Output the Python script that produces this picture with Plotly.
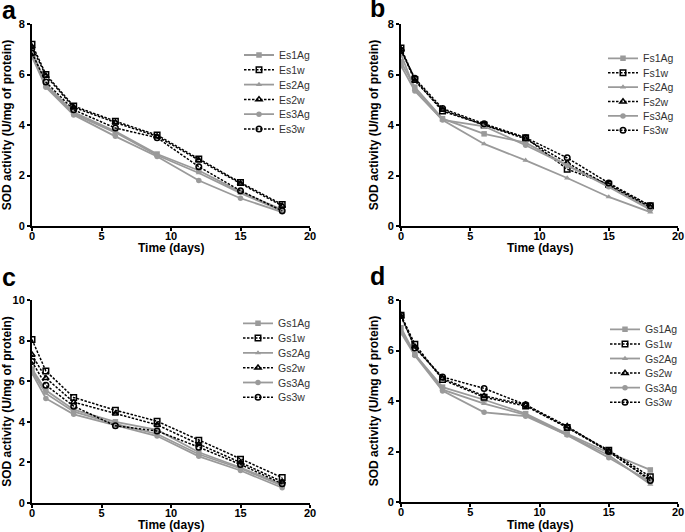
import plotly.graph_objects as go

days = [0, 1, 3, 6, 9, 12, 15, 18]

# Panel a
a_names = ["Es1Ag", "Es1w", "Es2Ag", "Es2w", "Es3Ag", "Es3w"]
Es1Ag = [6.95, 5.6, 4.5, 3.75, 2.85, 2.2, 1.35, 0.65]
Es1w = [7.2, 6.0, 4.75, 4.15, 3.6, 2.65, 1.72, 0.85]
Es2Ag = [6.8, 5.55, 4.45, 3.7, 2.8, 2.1, 1.3, 0.6]
Es2w = [7.1, 5.95, 4.7, 4.1, 3.55, 2.6, 1.68, 0.8]
Es3Ag = [6.7, 5.5, 4.4, 3.55, 2.75, 1.8, 1.1, 0.55]
Es3w = [6.85, 5.7, 4.6, 3.88, 3.5, 2.35, 1.4, 0.6]

# Panel b
b_names = ["Fs1Ag", "Fs1w", "Fs2Ag", "Fs2w", "Fs3Ag", "Fs3w"]
Fs1Ag = [6.5, 5.5, 4.25, 3.65, 3.3, 2.4, 1.6, 0.7]
Fs1w = [7.05, 5.8, 4.55, 4.0, 3.5, 2.25, 1.65, 0.8]
Fs2Ag = [6.8, 5.4, 4.2, 3.25, 2.6, 1.9, 1.15, 0.55]
Fs2w = [7.0, 5.75, 4.6, 4.0, 3.45, 2.5, 1.6, 0.75]
Fs3Ag = [6.35, 5.35, 4.2, 3.95, 3.2, 2.4, 1.55, 0.65]
Fs3w = [6.95, 5.85, 4.65, 4.05, 3.5, 2.7, 1.7, 0.8]

# Panel c
c_names = ["Gs1Ag", "Gs1w", "Gs2Ag", "Gs2w", "Gs3Ag", "Gs3w"]
cGs1Ag = [6.6, 5.55, 4.6, 4.0, 3.6, 2.5, 1.75, 0.9]
cGs1w = [8.05, 6.5, 5.2, 4.57, 4.03, 3.09, 2.15, 1.25]
cGs2Ag = [6.5, 5.4, 4.5, 3.9, 3.4, 2.4, 1.7, 0.85]
cGs2w = [7.3, 6.15, 4.97, 4.4, 3.85, 2.9, 2.0, 1.05]
cGs3Ag = [6.4, 5.15, 4.37, 3.85, 3.3, 2.3, 1.6, 0.75]
cGs3w = [6.97, 5.8, 4.77, 3.8, 3.55, 2.75, 1.9, 0.95]

# Panel d
d_names = ["Gs1Ag", "Gs1w", "Gs2Ag", "Gs2w", "Gs3Ag", "Gs3w"]
dGs1Ag = [6.9, 5.85, 4.55, 4.05, 3.5, 2.7, 1.95, 1.27]
dGs1w = [7.4, 6.25, 4.85, 4.15, 3.8, 2.95, 2.05, 1.0]
dGs2Ag = [6.8, 5.85, 4.45, 3.9, 3.45, 2.65, 1.85, 0.7]
dGs2w = [7.35, 6.15, 4.9, 4.2, 3.85, 3.0, 2.0, 0.9]
dGs3Ag = [6.7, 5.8, 4.4, 3.55, 3.4, 2.65, 1.75, 0.8]
dGs3w = [7.4, 6.1, 4.95, 4.5, 3.85, 2.95, 2.0, 0.85]

x_ticks = [0, 5, 10, 15, 20]
panel_letters = ["a", "b", "c", "d"]
x_title = "Time (days)"
y_title = "SOD activity (U/mg of protein)"

panels = [
    (a_names, [Es1Ag, Es1w, Es2Ag, Es2w, Es3Ag, Es3w], 8),
    (b_names, [Fs1Ag, Fs1w, Fs2Ag, Fs2w, Fs3Ag, Fs3w], 8),
    (c_names, [cGs1Ag, cGs1w, cGs2Ag, cGs2w, cGs3Ag, cGs3w], 10),
    (d_names, [dGs1Ag, dGs1w, dGs2Ag, dGs2w, dGs3Ag, dGs3w], 8),
]

W, H = 685, 532
FONT = "Liberation Sans, Arial, sans-serif"
GRAY = "#9a9a9a"

# pixel geometry of each plot area: (x0, x1, ytop, ybottom)
boxes = [(32, 310, 24, 226), (401, 678, 24, 226), (32, 310, 300, 503), (401, 678, 300, 502)]
# legend: left x of the legend box, first row centre, row step (pixels)
legend_pos = [(239, 55, 14.8), (603, 58.3, 14.4), (238, 323.3, 14.8), (605, 329.3, 14.6)]
# panel letter: left x, bottom y of text box (pixels)
letter_pos = [(0, 26), (368, 24), (0, 293), (368, 292)]
# x-axis title centre y (pixels)
xtitle_y = [248, 248, 525, 525]

symbols_ag = ["square", "triangle-up", "circle"]
symbols_w = ["square-open", "triangle-up-open", "circle-open"]

fig = go.Figure()
layout = {}
annotations = []
legend_count = 0
for i, (names, series, ymax) in enumerate(panels):
    k = "" if i == 0 else str(i + 1)
    lx, ly0, lstep = legend_pos[i]
    for j, (nm, vals) in enumerate(zip(names, series)):
        is_ag = j % 2 == 0
        idx = j // 2
        if is_ag:
            line = dict(color=GRAY, width=1.8)
            marker = dict(symbol=symbols_ag[idx], size=5.5, color=GRAY)
        else:
            line = dict(color="black", width=1.5, dash="2.5px,1.5px")
            marker = dict(symbol=symbols_w[idx], size=5.5, color="black",
                          line=dict(color="black", width=1.5))
        legend_count += 1
        lg = "legend" if legend_count == 1 else "legend" + str(legend_count)
        fig.add_trace(go.Scatter(x=days, y=vals, name=nm, mode="lines+markers",
                                 line=line, marker=marker,
                                 xaxis="x" + k, yaxis="y" + k, legend=lg))
        layout[lg] = dict(x=lx / W, y=1 - (ly0 + j * lstep) / H, xanchor="left", yanchor="middle",
                          bgcolor="rgba(0,0,0,0)", itemwidth=30, borderwidth=0,
                          font=dict(family=FONT, size=10.5, color="#333"))
    x0, x1, yt, yb = boxes[i]
    axis_common = dict(showline=True, linecolor="black", linewidth=2, ticks="outside",
                       ticklen=3, tickwidth=1.5, tickcolor="black", showgrid=False,
                       zeroline=False, automargin=False,
                       tickfont=dict(family=FONT, size=11, color="black", weight="bold"))
    layout["xaxis" + k] = dict(domain=[x0 / W, x1 / W], anchor="y" + k, range=[0, 20],
                               tickvals=x_ticks, ticklabelstandoff=-4, **axis_common)
    layout["yaxis" + k] = dict(domain=[1 - yb / H, 1 - yt / H], anchor="x" + k, range=[0, ymax],
                               dtick=2,
                               title=dict(text=y_title, standoff=6,
                                          font=dict(family=FONT, size=12, color="black", weight="bold")),
                               **axis_common)
    annotations.append(dict(text=x_title, x=(x0 + x1) / 2 / W, y=1 - xtitle_y[i] / H,
                            xref="paper", yref="paper", showarrow=False,
                            xanchor="center", yanchor="middle",
                            font=dict(family=FONT, size=12, color="black", weight="bold")))
    px, py = letter_pos[i]
    annotations.append(dict(text=panel_letters[i], x=px / W, y=1 - py / H, xref="paper", yref="paper",
                            showarrow=False, xanchor="left", yanchor="bottom",
                            font=dict(family=FONT, size=25, color="black", weight="bold")))

fig.update_layout(width=W, height=H, margin=dict(l=0, r=0, t=0, b=0),
                  plot_bgcolor="white", paper_bgcolor="white",
                  annotations=annotations, showlegend=True, **layout)
fig.write_html("out.html", config={"displayModeBar": False},
               post_script="document.body.style.margin='0';document.body.style.overflow='hidden';")
